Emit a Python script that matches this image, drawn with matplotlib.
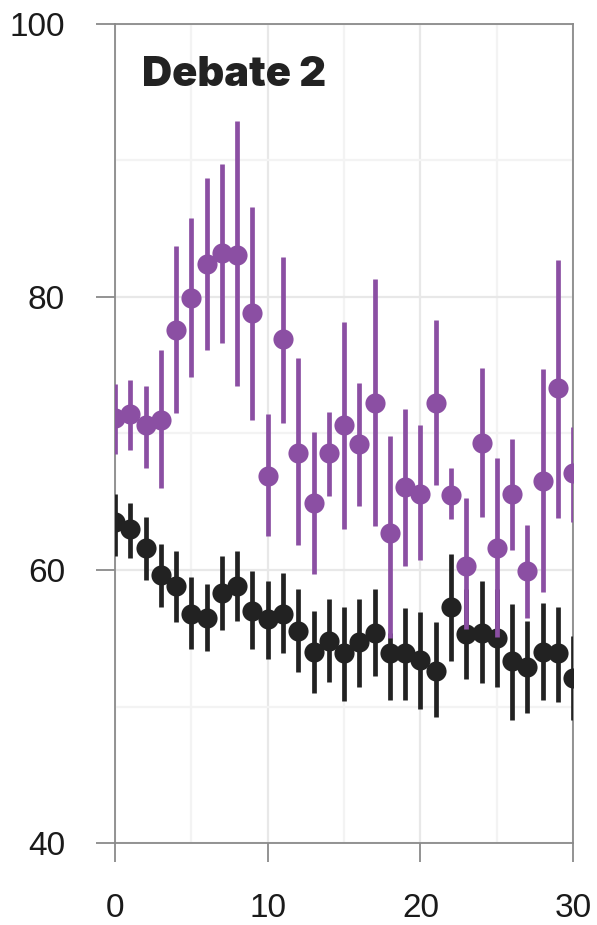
import matplotlib
matplotlib.use("Agg")
import matplotlib.pyplot as plt
from matplotlib import font_manager
import numpy as np

# Seconds after the moment, 0..30
seconds = list(range(31))

# Purple series: mean with lower / upper interval bounds
purple_mean = [71.1, 71.4, 70.6, 71.0, 77.6, 79.9, 82.4, 83.2, 83.1, 78.8,
               66.9, 76.9, 68.6, 64.9, 68.6, 70.6, 69.2, 72.2, 62.7, 66.1,
               65.6, 72.2, 65.5, 60.3, 69.3, 61.6, 65.6, 59.9, 66.5, 73.3, 67.1]
purple_low = [68.5, 68.8, 67.5, 66.0, 71.5, 74.1, 76.1, 76.6, 73.5, 71.0,
              62.5, 70.8, 61.8, 59.7, 65.4, 63.0, 64.7, 63.2, 55.0, 60.3,
              60.7, 66.2, 63.7, 55.7, 63.9, 55.1, 61.5, 56.5, 58.4, 63.8, 63.5]
purple_high = [73.6, 73.9, 73.5, 76.1, 83.7, 85.8, 88.7, 89.7, 92.9, 86.6,
               71.4, 82.9, 75.5, 70.1, 71.6, 78.2, 73.7, 81.3, 69.8, 71.8,
               70.6, 78.3, 67.5, 65.3, 74.8, 68.2, 69.6, 63.3, 74.7, 82.7, 70.5]

# Black series: mean with lower / upper interval bounds
black_mean = [63.5, 63.0, 61.6, 59.6, 58.8, 56.8, 56.5, 58.3, 58.8, 57.0,
              56.4, 56.8, 55.5, 54.0, 54.8, 53.9, 54.7, 55.4, 53.9, 53.9,
              53.4, 52.6, 57.3, 55.3, 55.4, 55.0, 53.3, 52.9, 54.0, 53.9, 52.1]
black_low = [61.0, 60.9, 59.3, 57.3, 56.2, 54.2, 54.1, 55.6, 56.3, 54.2,
             53.5, 53.9, 52.5, 51.0, 51.8, 50.4, 51.4, 52.2, 50.5, 50.5,
             49.8, 49.2, 53.3, 52.0, 51.7, 51.4, 49.0, 49.5, 50.5, 50.3, 49.0]
black_high = [65.6, 64.9, 63.9, 61.9, 61.4, 59.5, 59.0, 61.0, 61.4, 59.9,
              59.2, 59.8, 58.6, 57.0, 57.9, 57.3, 57.9, 58.6, 55.4, 57.2,
              56.9, 56.2, 61.2, 58.6, 59.2, 58.6, 57.5, 56.3, 57.6, 57.3, 55.2]

x_ticks = [0, 10, 20, 30]
y_ticks = [40, 60, 80, 100]
panel_title = "Debate 2"

PURPLE = "#8B4FA3"
BLACK = "#222222"
SPINE = "#8a8a8a"

plt.rcParams["font.family"] = ["Liberation Sans", "DejaVu Sans"]

fig = plt.figure(figsize=(5.97, 9.25), dpi=100)
ax = fig.add_axes([0.1926, 0.0886, 0.7675, 0.8856])

ax.set_xlim(0, 30)
ax.set_ylim(40, 100)

# light grid: major and minor
ax.set_xticks([5, 15, 25], minor=True)
ax.set_yticks([50, 70, 90], minor=True)
ax.grid(True, which="major", color="#e8e8e8", linewidth=1.6, zorder=0)
ax.grid(True, which="minor", color="#f3f3f3", linewidth=1.6, zorder=0)
ax.tick_params(which="minor", length=0)


def draw_series(mean, low, high, color, z):
    mean = np.asarray(mean)
    yerr = np.vstack([mean - np.asarray(low), np.asarray(high) - mean])
    ax.errorbar(seconds, mean, yerr=yerr, fmt="o", color=color,
                ecolor=color, elinewidth=3.4, capsize=0,
                markersize=14.5, markeredgewidth=0, zorder=z)


draw_series(black_mean, black_low, black_high, BLACK, 3)
draw_series(purple_mean, purple_low, purple_high, PURPLE, 4)

ax.set_xticks(x_ticks)
ax.set_yticks(y_ticks)
ax.tick_params(which="major", direction="out", length=14, width=1.3,
               color=SPINE, labelsize=24, labelcolor="#1a1a1a", pad=22)
for s in ax.spines.values():
    s.set_color(SPINE)
    s.set_linewidth(1.3)

# heavy, tightly set panel title
title_font = font_manager.FontProperties(family=["Inter", "Liberation Sans"],
                                         weight="black", size=30)
ax.text(0.060, 0.938, panel_title, transform=ax.transAxes,
        fontproperties=title_font, color="#222222",
        ha="left", va="center", zorder=6)

fig.savefig("out.png", dpi=100)
